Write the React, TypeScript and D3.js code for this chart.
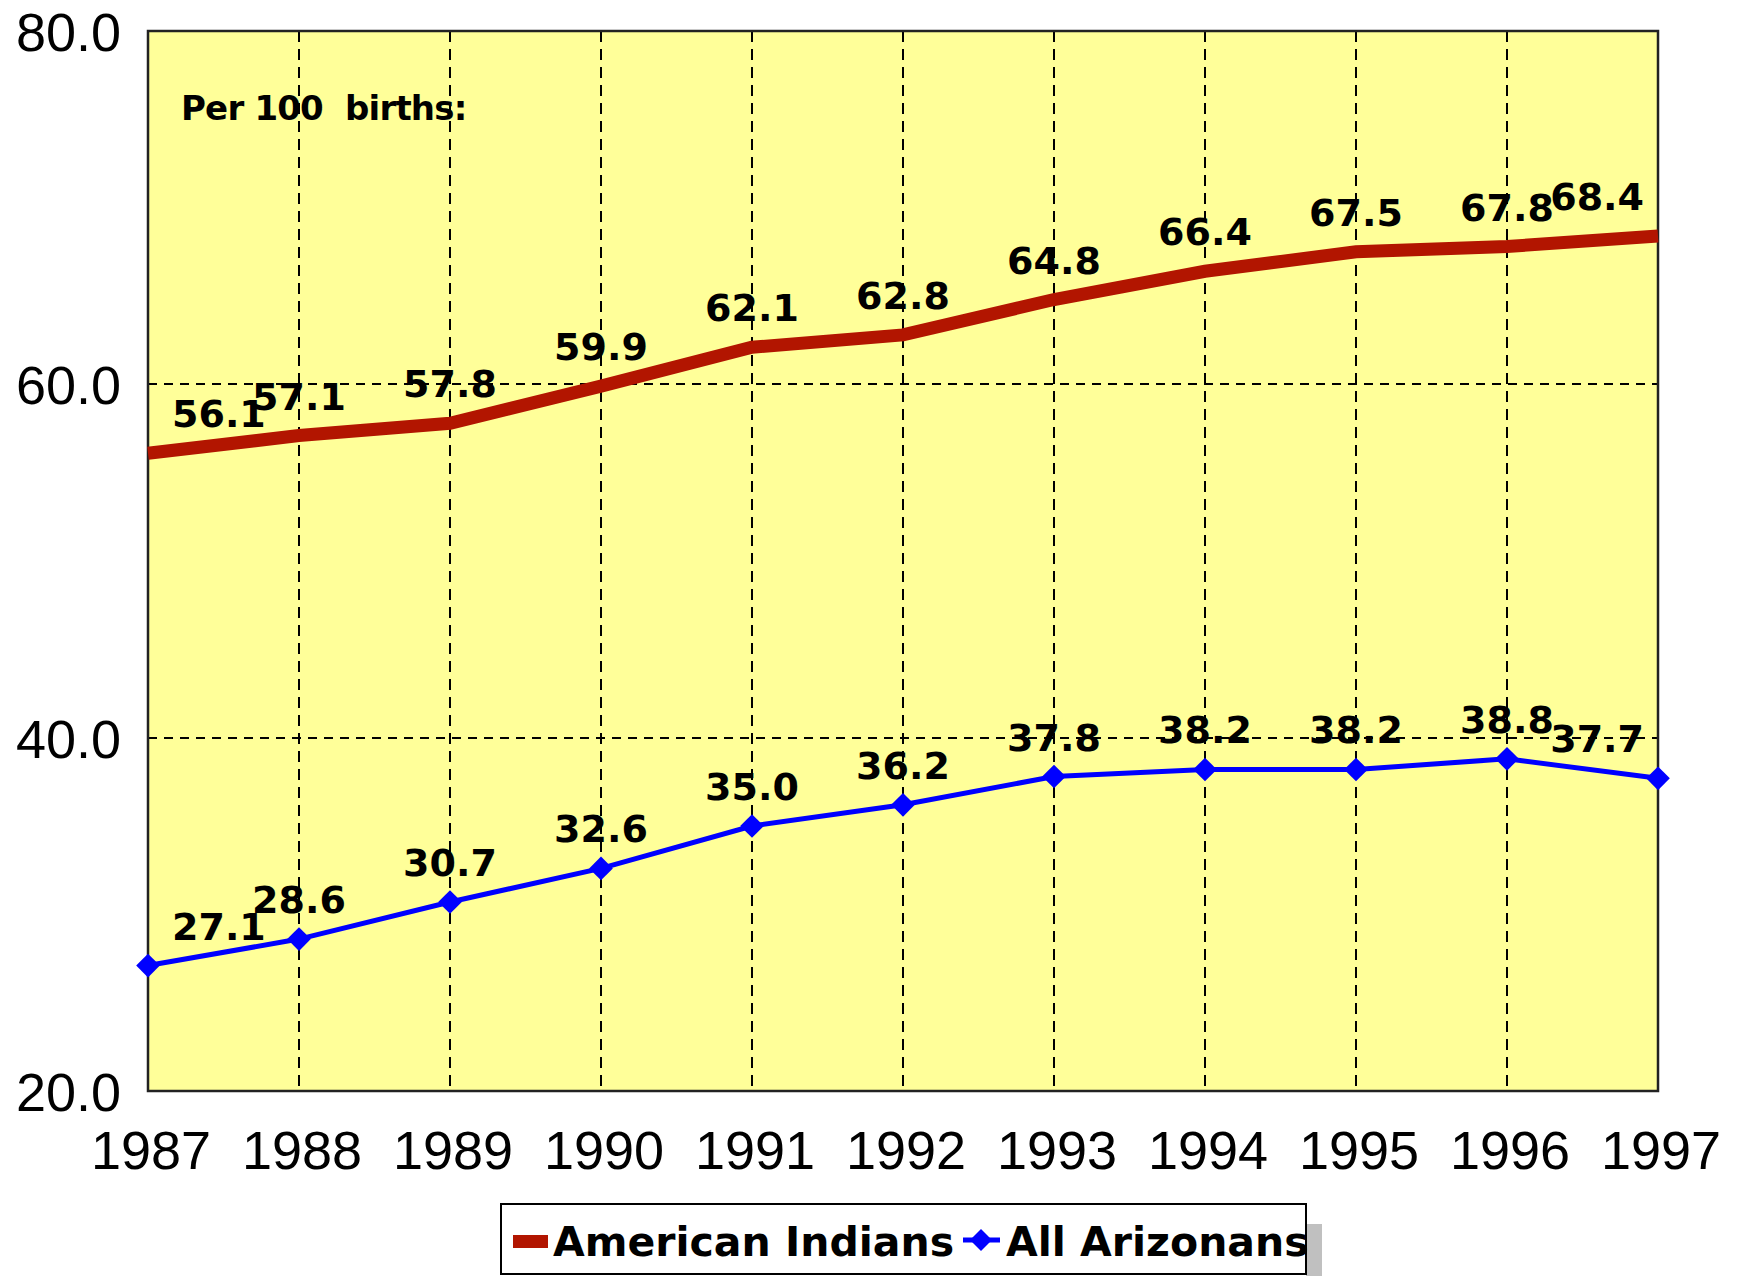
import React from 'react';
import * as d3 from 'd3';

const years = [1987, 1988, 1989, 1990, 1991, 1992, 1993, 1994, 1995, 1996, 1997];
const americanIndians = [56.1, 57.1, 57.8, 59.9, 62.1, 62.8, 64.8, 66.4, 67.5, 67.8, 68.4];
const allArizonans = [27.1, 28.6, 30.7, 32.6, 35.0, 36.2, 37.8, 38.2, 38.2, 38.8, 37.7];
const yTicks = [20, 40, 60, 80];
const seriesNames = ['American Indians', 'All Arizonans'];

const W = 1745;
const H = 1276;
const plot = { left: 148, right: 1658, top: 31, bottom: 1091 };

const RED = '#B21500';
const BLUE = '#0000FF';
const AXIS_FONT = '"Liberation Sans", Arial, sans-serif';
const BOLD_FONT = '"DejaVu Sans", Verdana, sans-serif';

const App: React.FC = () => {
  const x = d3.scaleLinear().domain([1987, 1997]).range([plot.left, plot.right]);
  const y = d3.scaleLinear().domain([20, 80]).range([plot.bottom, plot.top]);

  const line = d3
    .line<number>()
    .x((_, i) => x(years[i]))
    .y((d) => y(d));

  const diamond = d3.symbol().type(d3.symbolSquare).size(280)();
  const legendDiamond = d3.symbol().type(d3.symbolSquare).size(240)();

  // data label placement: first label pushed right, last one pushed left
  const labelProps = (i: number, v: number) => {
    const px = x(years[i]);
    const py = y(v) - 26;
    if (i === 0) return { x: px + 24, y: py, anchor: 'start' };
    if (i === years.length - 1) return { x: px - 14, y: py, anchor: 'end' };
    return { x: px, y: py, anchor: 'middle' };
  };

  return (
    <svg
      width={W}
      height={H}
      style={{ position: 'absolute', left: 0, top: 0, background: '#fff' }}
    >
      {/* plot background */}
      <rect
        x={plot.left}
        y={plot.top}
        width={plot.right - plot.left}
        height={plot.bottom - plot.top}
        fill="#FFFF99"
      />

      {/* grid */}
      {years.slice(1, -1).map((yr) => (
        <line
          key={'gx' + yr}
          x1={Math.round(x(yr))}
          x2={Math.round(x(yr))}
          y1={plot.top}
          y2={plot.bottom}
          stroke="#000"
          strokeWidth={2}
          strokeDasharray="11,7"
          shapeRendering="crispEdges"
        />
      ))}
      {yTicks.slice(1, -1).map((t) => (
        <line
          key={'gy' + t}
          x1={plot.left}
          x2={plot.right}
          y1={Math.round(y(t))}
          y2={Math.round(y(t))}
          stroke="#000"
          strokeWidth={2}
          strokeDasharray="9,7"
          shapeRendering="crispEdges"
        />
      ))}

      {/* border */}
      <rect
        x={plot.left}
        y={plot.top}
        width={plot.right - plot.left}
        height={plot.bottom - plot.top}
        fill="none"
        stroke="#222"
        strokeWidth={2.5}
      />

      {/* y axis labels */}
      {yTicks.map((t) => (
        <text
          key={'yt' + t}
          x={121}
          y={y(t) + 20}
          textAnchor="end"
          fontFamily={AXIS_FONT}
          fontSize={54}
          fill="#000"
        >
          {t.toFixed(1)}
        </text>
      ))}

      {/* x axis labels */}
      {years.map((yr) => (
        <text
          key={'xt' + yr}
          x={x(yr) + 3}
          y={plot.bottom + 78}
          textAnchor="middle"
          fontFamily={AXIS_FONT}
          fontSize={54}
          fill="#000"
        >
          {yr}
        </text>
      ))}

      <text
        x={181}
        y={120}
        fontFamily={BOLD_FONT}
        fontWeight="bold"
        fontSize={34}
        letterSpacing={-0.8}
        fill="#000"
        style={{ whiteSpace: 'pre' }}
      >
        {'Per 100  births:'}
      </text>

      {/* series lines */}
      <path d={line(americanIndians) || ''} fill="none" stroke={RED} strokeWidth={13} />
      <path d={line(allArizonans) || ''} fill="none" stroke={BLUE} strokeWidth={5} />
      {allArizonans.map((v, i) => (
        <path
          key={'m' + i}
          d={diamond || ''}
          transform={`translate(${x(years[i])},${y(v)}) rotate(45)`}
          fill={BLUE}
        />
      ))}

      {/* data labels */}
      {[americanIndians, allArizonans].map((series, s) =>
        series.map((v, i) => {
          const p = labelProps(i, v);
          return (
            <text
              key={`l${s}-${i}`}
              x={p.x}
              y={p.y}
              textAnchor={p.anchor as any}
              fontFamily={BOLD_FONT}
              fontWeight="bold"
              fontSize={38}
              fill="#000"
            >
              {v.toFixed(1)}
            </text>
          );
        })
      )}

      {/* legend */}
      <rect x={1306} y={1224} width={16} height={52} fill="#C0C0C0" />
      <rect x={501} y={1204} width={805} height={70} fill="#fff" stroke="#000" strokeWidth={2} />
      <rect x={513} y={1235} width={35} height={13} fill={RED} />
      <text
        x={553}
        y={1256}
        fontFamily={BOLD_FONT}
        fontWeight="bold"
        fontSize={41}
        fill="#000"
      >
        {seriesNames[0]}
      </text>
      <line x1={963} x2={1000} y1={1240} y2={1240} stroke={BLUE} strokeWidth={5} />
      <path d={legendDiamond || ''} transform="translate(981,1240) rotate(45)" fill={BLUE} />
      <text
        x={1006}
        y={1256}
        fontFamily={BOLD_FONT}
        fontWeight="bold"
        fontSize={41}
        fill="#000"
      >
        {seriesNames[1]}
      </text>
    </svg>
  );
};

export default App;
